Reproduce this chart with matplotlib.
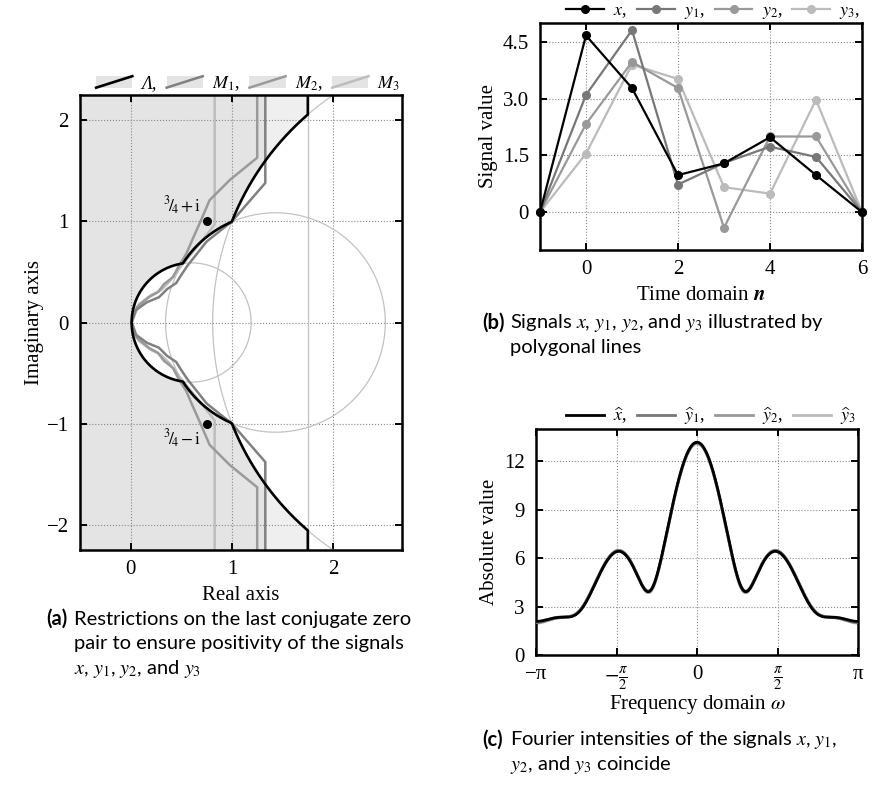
import numpy as np
import matplotlib
matplotlib.use("Agg")
import matplotlib.pyplot as plt
from matplotlib.patches import Polygon, Rectangle
from matplotlib.lines import Line2D
from matplotlib.legend_handler import HandlerBase

# ---- data: signals (panel b, c) ----
n_idx = [-1, 0, 1, 2, 3, 4, 5, 6]
sig_x = [0, 4.67, 3.28, 0.98, 1.29, 1.98, 0.98, 0]
sig_y1 = [0, 3.10, 4.81, 0.73, 1.30, 1.73, 1.46, 0]
sig_y2 = [0, 2.33, 3.97, 3.28, -0.41, 2.00, 2.00, 0]
sig_y3 = [0, 1.55, 3.90, 3.52, 0.66, 0.49, 2.97, 0]

# ---- data: panel a (zero plane) ----
circ_c = [0.60, 1.43, 3.53]     # thin circles, centres on real axis
circ_r = [0.59, 1.085, 2.72]
lam_xmax = 1.75                 # vertical bound of Lambda
zero_re = [0.75, 0.75]
zero_im = [1.0, -1.0]

# upper halves of the M boundaries (mirrored below)
m1_x = [0.01, 0.05, 0.16, 0.28, 0.36, 0.45, 0.50, 0.56, 0.75, 1.00, 1.33, 1.33]
m1_y = [0.00, 0.12, 0.20, 0.25, 0.33, 0.39, 0.47, 0.56, 0.80, 1.00, 1.38, 2.40]
m2_x = [0.01, 0.06, 0.18, 0.27, 0.33, 0.42, 0.47, 0.55, 0.61, 0.69, 0.78, 0.98, 1.25, 1.25]
m2_y = [0.00, 0.15, 0.25, 0.30, 0.38, 0.45, 0.55, 0.68, 0.82, 1.00, 1.21, 1.41, 1.63, 2.40]
m3_x = [0.01, 0.08, 0.20, 0.30, 0.38, 0.45, 0.55, 0.70, 0.83, 0.83]
m3_y = [0.00, 0.18, 0.27, 0.32, 0.40, 0.50, 0.62, 0.80, 0.97, 2.40]

col_sig = ['#000000', '#777777', '#999999', '#bbbbbb']

plt.rcParams['font.family'] = ['Liberation Serif', 'DejaVu Serif']
plt.rcParams['mathtext.fontset'] = 'stix'
plt.rcParams['font.size'] = 12


def style_axes(ax):
    for s in ax.spines.values():
        s.set_linewidth(1.8)
    ax.tick_params(direction='in', top=True, right=True, length=5, width=1.4,
                   labelsize=15)
    ax.tick_params(axis='x', pad=7)
    ax.tick_params(axis='y', pad=8)
    ax.grid(True, linestyle=':', color='#888888', linewidth=0.8)
    ax.set_axisbelow(True)


#境界 x(y) を円と縦線から求める
def lam_boundary(yy):
    bx = np.full_like(yy, lam_xmax)
    ay = np.abs(yy)
    for c, r in zip(circ_c, circ_r):
        ins = ay < r
        bx[ins] = np.minimum(bx[ins], c - np.sqrt(r**2 - ay[ins]**2))
    return bx


def mirror(xs, ys):
    xs = np.asarray(xs)
    ys = np.asarray(ys)
    return np.concatenate([xs[::-1], xs[1:]]), np.concatenate([-ys[::-1], ys[1:]])


class SlantHandler(HandlerBase):
    def create_artists(self, legend, orig_handle, xdescent, ydescent,
                       width, height, fontsize, trans):
        x0, y0 = -xdescent, -ydescent
        box = Rectangle((x0, y0), width, height, facecolor='#e4e4e4',
                        edgecolor='none', transform=trans)
        ln = Line2D([x0, x0 + width], [y0, y0 + height],
                    color=orig_handle.get_color(),
                    lw=orig_handle.get_linewidth(), transform=trans)
        return [box, ln]


fig = plt.figure(figsize=(8.72, 7.93), dpi=100)
W, H = 872.0, 793.0


def px_axes(l, t, r, b):
    return fig.add_axes([l / W, 1 - b / H, (r - l) / W, (b - t) / H])


def top_legend(ax, handles, labels, **kw):
    leg = ax.legend(handles, labels, loc='lower right', bbox_to_anchor=(1.0, 1.0),
                    ncol=4, frameon=False, borderaxespad=0.0, borderpad=0.1,
                    handletextpad=0.5, columnspacing=0.55, fontsize=13, **kw)
    return leg


# ================= panel (a) =================
ax = px_axes(80, 95, 402, 550)
style_axes(ax)

yy = np.concatenate([np.linspace(-2.4, -0.6, 400), np.linspace(-0.6, 0.6, 1200),
                     np.linspace(0.6, 2.4, 400)])
bx = lam_boundary(yy)
lam_poly = Polygon([(-1.0, -2.4)] + list(zip(bx, yy)) + [(-1.0, 2.4)],
                   closed=True, facecolor='#efefef', edgecolor='none', zorder=0.1)
ax.add_patch(lam_poly)
for mx, my in [(m1_x, m1_y), (m2_x, m2_y), (m3_x, m3_y)]:
    fx, fy = mirror(mx, my)
    p = Polygon([(-1.0, fy[0])] + list(zip(fx, fy)) + [(-1.0, fy[-1])],
                closed=True, facecolor='#e4e4e4', edgecolor='none', zorder=0.2)
    ax.add_patch(p)
    p.set_clip_path(lam_poly)

th = np.linspace(0, 2 * np.pi, 600)
for c, r in zip(circ_c, circ_r):
    ax.plot(c + r * np.cos(th), r * np.sin(th), color='#c2c2c2', lw=0.9, zorder=1)
ax.axvline(lam_xmax, color='#c2c2c2', lw=0.9, zorder=1)

h_m3, = ax.plot(*mirror(m3_x, m3_y), color='#bdbdbd', lw=1.8, zorder=2)
h_m2, = ax.plot(*mirror(m2_x, m2_y), color='#9a9a9a', lw=1.8, zorder=2.1)
h_m1, = ax.plot(*mirror(m1_x, m1_y), color='#808080', lw=1.8, zorder=2.2)
h_l, = ax.plot(bx, yy, color='black', lw=1.9, zorder=3)
ax.scatter(zero_re, zero_im, s=30, color='black', zorder=4)
ax.text(0.70, 1.04, r'${}^{3}\!/\!{}_{4} + \mathrm{i}$', ha='right', va='bottom', fontsize=12.5)
ax.text(0.70, -1.04, r'${}^{3}\!/\!{}_{4} - \mathrm{i}$', ha='right', va='top', fontsize=12.5)

ax.set_xlim(-0.5, 2.68)
ax.set_ylim(-2.25, 2.25)
ax.set_xticks([0, 1, 2])
ax.set_yticks([-2, -1, 0, 1, 2])
ax.set_xlabel('Real axis', fontsize=15, labelpad=5)
ax.set_ylabel('Imaginary axis', fontsize=15, labelpad=2)
leg = top_legend(ax, [h_l, h_m1, h_m2, h_m3], ['Λ,', r'$M_1$,', r'$M_2$,', r'$M_3$'],
                 handler_map={Line2D: SlantHandler()}, handlelength=2.0, handleheight=0.6)
leg.get_texts()[0].set_fontstyle('italic')

# ================= panel (b) =================
ax = px_axes(540, 23, 862, 250)
style_axes(ax)
hs = []
for sig, col, z in zip([sig_x, sig_y1, sig_y2, sig_y3], col_sig, [5, 4, 3, 2]):
    h, = ax.plot(n_idx, sig, color=col, lw=1.6, marker='o', ms=5.5, zorder=z,
                 clip_on=False)
    hs.append(h)
ax.set_xlim(-1, 6)
ax.set_ylim(-1, 5)
ax.set_xticks([0, 2, 4, 6])
ax.set_yticks([0, 1.5, 3, 4.5])
ax.set_yticklabels(['0', '1.5', '3.0', '4.5'])
ax.set_xlabel(r'Time domain $\mathbfit{n}$', fontsize=15, labelpad=5)
ax.set_ylabel('Signal value', fontsize=15, labelpad=3)
top_legend(ax, hs, [r'$x$,', r'$y_1$,', r'$y_2$,', r'$y_3$,'], handlelength=2.1)

# ================= panel (c) =================
ax = px_axes(536, 429, 858, 655)
style_axes(ax)
w = np.linspace(-np.pi, np.pi, 800)
hs = []
for sig, col, z in zip([sig_x, sig_y1, sig_y2, sig_y3], col_sig, [5, 4, 3, 2]):
    spec = np.abs(np.exp(-1j * np.outer(w, n_idx)) @ np.asarray(sig, float))
    h, = ax.plot(w, spec, color=col, lw=2.0, zorder=z)
    hs.append(h)
ax.set_xlim(-np.pi, np.pi)
ax.set_ylim(0, 14)
ax.set_xticks([-np.pi, -np.pi / 2, 0, np.pi / 2, np.pi])
ax.set_xticklabels(['−π', r'$-\frac{\pi}{2}$', '0', r'$\frac{\pi}{2}$', 'π'])
ax.set_yticks([0, 3, 6, 9, 12])
ax.set_xlabel(r'Frequency domain $\omega$', fontsize=15, labelpad=0)
ax.set_ylabel('Absolute value', fontsize=15, labelpad=4)
top_legend(ax, hs, [r'$\widehat{x}$,', r'$\widehat{y}_1$,', r'$\widehat{y}_2$,', r'$\widehat{y}_3$'],
           handlelength=2.1)

# ================= captions =================
cap_font = ['Lato', 'DejaVu Sans']


def caption(x, y, tag, lines):
    fig.text(x / W, 1 - y / H, tag, family=cap_font, fontweight='bold',
             fontsize=14.5, va='center')
    for k, s in enumerate(lines):
        fig.text((x + 28) / W, 1 - (y + 25 * k) / H, s, family=cap_font,
                 fontsize=14.5, va='center')


caption(46, 619, '(a)', ['Restrictions on the last conjugate zero',
                         'pair to ensure positivity of the signals',
                         r'$x$, $y_1$, $y_2$, and $y_3$'])
caption(482, 323, '(b)', [r'Signals $x$, $y_1$, $y_2$, and $y_3$ illustrated by',
                          'polygonal lines'])
caption(482, 740, '(c)', [r'Fourier intensities of the signals $x$, $y_1$,',
                          r'$y_2$, and $y_3$ coincide'])

fig.savefig('out.png', dpi=100)
